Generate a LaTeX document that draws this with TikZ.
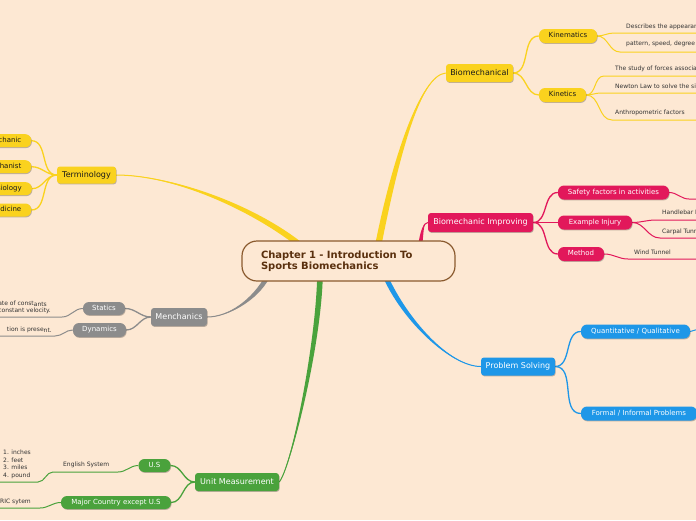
\documentclass[tikz,border=0pt]{standalone}
\usepackage{fontspec}
\setmainfont{DejaVu Sans}
\usetikzlibrary{calc,shadows}
\definecolor{bgc}{HTML}{FDE8D3}
\definecolor{ylw}{HTML}{FAD21E}
\definecolor{pnk}{HTML}{E2185B}
\definecolor{blu}{HTML}{1E97E8}
\definecolor{grn}{HTML}{4AA23C}
\definecolor{gry}{HTML}{8C8C8C}
\definecolor{rootb}{HTML}{8A5A2E}
\definecolor{roott}{HTML}{5A300E}
\definecolor{leafc}{HTML}{333333}
\definecolor{blk}{HTML}{1A1A1A}
\pgfdeclarelayer{bgl}
\pgfdeclarelayer{edges}
\pgfsetlayers{bgl,edges,main}
\tikzset{
  shad/.style={drop shadow={shadow xshift=0.6pt, shadow yshift=-0.9pt, opacity=0.25, fill=black}},
  mainnode/.style={shad, rounded corners=3pt, minimum height=18pt, inner xsep=2pt, inner ysep=0pt,
    font=\fontsize{8}{9}\selectfont, text height=6pt, text depth=1.7pt},
  subnode/.style={shad, rounded corners=6pt, minimum height=14pt, inner xsep=2pt, inner ysep=0pt,
    font=\fontsize{7}{8}\selectfont, text height=5.2pt, text depth=1.5pt},
  leaf/.style={font=\fontsize{6}{7}\selectfont, text=leafc, inner sep=0pt, text height=4.5pt, text depth=1.3pt},
  subln/.style={line width=1.3pt},
  lfln/.style={line width=1pt},
}
\newcommand\tbr[6]{%
  \fill[#1] ($#2+#6$) .. controls ($#3+#6$) and #4 .. #5 .. controls #4 and ($#3-#6$) .. ($#2-#6$) -- cycle;
  \draw[#1,line width=1pt] #2 .. controls #3 and #4 .. #5;}
\begin{document}
\begin{tikzpicture}[x=1pt,y=-1pt]
\useasboundingbox (0,0) rectangle (696,520);
\begin{pgfonlayer}{bgl}
\fill[bgc] (0,0) rectangle (696,520);
\end{pgfonlayer}

% root
\node[draw=rootb, line width=1.2pt, fill=bgc, rounded corners=15pt, minimum width=213pt,
  minimum height=40pt, inner xsep=19pt, text width=175pt, align=left,
  font=\bfseries\fontsize{10}{11}\selectfont, text=roott] (root) at (348.5,261)
  {Chapter 1 - Introduction To\\Sports Biomechanics};

% main nodes
\node[mainnode, fill=ylw, text=blk, minimum width=67pt] (bioM) at (479.5,73) {Biomechanical};
\node[mainnode, fill=ylw, text=blk, minimum width=59pt, minimum height=17pt] (term) at (86.5,175) {Terminology};
\node[mainnode, fill=pnk, text=white, minimum width=105pt, minimum height=19pt] (imp) at (480.5,222.5) {Biomechanic Improving};
\node[mainnode, fill=gry, text=white, minimum width=56pt] (mech) at (179,317) {Menchanics};
\node[mainnode, fill=blu, text=white, minimum width=74pt] (prob) at (518,366.5) {Problem Solving};
\node[mainnode, fill=grn, text=white, minimum width=84pt] (unit) at (237,482) {Unit Measurement};

% sub nodes
\node[subnode, fill=ylw, text=blk, minimum width=58pt] (kinem) at (568,36) {Kinematics};
\node[subnode, fill=ylw, text=blk, minimum width=47pt] (kinet) at (562.5,95) {Kinetics};
\node[subnode, fill=pnk, text=white, minimum width=111pt] (safe) at (613.5,192.5) {Safety factors in activities};
\node[subnode, fill=pnk, text=white, minimum width=74pt] (exinj) at (595,222.5) {Example Injury};
\node[subnode, fill=pnk, text=white, minimum width=46pt] (meth) at (581,254) {Method};
\node[subnode, fill=blu, text=white, minimum width=109pt] (quant) at (635.5,331.5) {Quantitative / Qualitative};
\node[subnode, fill=blu, text=white, minimum width=116pt] (formal) at (639,413.5) {Formal / Informal Problems};
\node[subnode, fill=gry, text=white, minimum width=42pt, minimum height=13pt] (statics) at (104,308.5) {Statics};
\node[subnode, fill=gry, text=white, minimum width=53pt] (dyn) at (99.5,330) {Dynamics};
\node[subnode, fill=grn, text=white, minimum width=32pt, minimum height=13pt] (us) at (154.5,465.5) {U.S};
\node[subnode, fill=grn, text=white, minimum width=110pt, minimum height=13pt] (major) at (116,502.5) {Major Country except U.S};
\node[subnode, fill=ylw, text=blk, anchor=east, inner xsep=10pt, minimum height=13pt] (tc1) at (31.5,140.7) {Biomechanic};
\node[subnode, fill=ylw, text=blk, anchor=east, inner xsep=10pt, minimum height=13pt] (tc2) at (31.5,166.7) {Biomechanist};
\node[subnode, fill=ylw, text=blk, anchor=east, inner xsep=10pt, minimum height=13pt] (tc3) at (32,188.7) {Kinesiology};
\node[subnode, fill=ylw, text=blk, anchor=east, inner xsep=10pt, minimum height=13pt] (tc4) at (31.5,210) {Sports Medicine};

% leaf texts
\node[leaf, anchor=west] (kt1) at (626,27) {Describes the appearance};
\node[leaf, anchor=west] (kt2) at (626,44) {pattern, speed, degree};
\node[leaf, anchor=west] (nt1) at (615,69) {The study of forces associated};
\node[leaf, anchor=west] (nt2) at (615,87) {Newton Law to solve the situation};
\node[leaf, anchor=west] (nt3) at (615,113) {Anthropometric factors};
\node[leaf, anchor=west] (et1) at (662,213) {Handlebar Palsy};
\node[leaf, anchor=west] (et2) at (662,232) {Carpal Tunnel};
\node[leaf, anchor=west] (mt1) at (634,253) {Wind Tunnel};
\node[leaf, anchor=east] (st1) at (47,304) {ate of const\raisebox{-1.3pt}{ants}};
\node[leaf, anchor=east] (st2) at (51,311) {constant velocity.};
\node[leaf, anchor=east] (dt1) at (52,330) {tion is prese\raisebox{-1.3pt}{nt.}};
\node[leaf, anchor=west] (es) at (63,465) {English System};
\node[leaf, anchor=west] (l1) at (3,453) {1. inches};
\node[leaf, anchor=west] (l2) at (3,460.6) {2. feet};
\node[leaf, anchor=west] (l3) at (3,468.2) {3. miles};
\node[leaf, anchor=west] (l4) at (3,475.8) {4. pound};
\node[leaf, anchor=east] (mj1) at (31,502) {METRIC sytem};

% line coordinates
\coordinate (kA) at (614,33);
\coordinate (kB) at (620,52);
\coordinate (nA) at (604,76);
\coordinate (nB) at (601,93);
\coordinate (nC) at (612,120);
\coordinate (sA) at (689,199);
\coordinate (eA) at (656,220);
\coordinate (eB) at (660,238);
\coordinate (mA) at (628,259);
\coordinate (qA) at (697,329.5);
\coordinate (stA) at (62,317);
\coordinate (dyA) at (55,336);
\coordinate (esR) at (118,472);
\coordinate (esL) at (53,472);
\coordinate (lsA) at (38,482);
\coordinate (mjA) at (40,508);

\coordinate (sB) at ($(root.north)+(29.5,6)$);
\coordinate (sT) at ($(root.north)+(-46.5,6)$);
\coordinate (sI) at ($(root.north)+(71.5,6)$);
\coordinate (sM) at ($(root.south)+(-81,-5)$);
\coordinate (sU) at ($(root.south)+(-28.5,-5)$);
\coordinate (sP) at ($(root.south)+(37,-5)$);

\begin{pgfonlayer}{edges}
% tapered main branches
\tbr{ylw}{(sB)}{(395,160)}{(420,75)}{(bioM.west)}{(3.2,0)}
\tbr{ylw}{(sT)}{(250,205)}{(170,175)}{(term.east)}{(1.8,-2.3)}
\tbr{pnk}{(sI)}{(422,232)}{(423,222.5)}{(imp.west)}{(2,0)}
\tbr{gry}{(sM)}{(255,300)}{(228,317)}{(mech.east)}{(2.1,1.1)}
\tbr{grn}{(sU)}{(318,350)}{(290,470)}{(unit.east)}{(2.8,0)}
\tbr{blu}{(sP)}{(405,320)}{(450,366.5)}{(prob.west)}{(2.3,-1)}

% sub branches
\draw[subln, ylw] (bioM.east) to[out=0,in=180] (kinem.west);
\draw[subln, ylw] (bioM.east) to[out=0,in=180] (kinet.west);
\draw[subln, ylw] (term.west) to[out=180,in=0] (tc1.east);
\draw[subln, ylw] (term.west) to[out=180,in=0] (tc2.east);
\draw[subln, ylw] (term.west) to[out=180,in=0] (tc3.east);
\draw[subln, ylw] (term.west) to[out=180,in=0] (tc4.east);
\draw[subln, pnk] (imp.east) to[out=0,in=180] (safe.west);
\draw[subln, pnk] (imp.east) to[out=0,in=180] (exinj.west);
\draw[subln, pnk] (imp.east) to[out=0,in=180] (meth.west);
\draw[subln, blu] (prob.east) to[out=0,in=180] (quant.west);
\draw[subln, blu] (prob.east) to[out=0,in=180] (formal.west);
\draw[subln, gry] (mech.west) to[out=180,in=0] (statics.east);
\draw[subln, gry] (mech.west) to[out=180,in=0] (dyn.east);
\draw[subln, grn] (unit.west) to[out=180,in=0] (us.east);
\draw[subln, grn] (unit.west) to[out=180,in=0] (major.east);

% leaf lines
\draw[lfln, ylw] (kinem.east) to[out=0,in=180] (kA) -- ++(90,0);
\draw[lfln, ylw] (kinem.east) to[out=0,in=180] (kB) -- ++(90,0);
\draw[lfln, ylw] (kinet.east) to[out=0,in=180] (nA) -- ++(100,0);
\draw[lfln, ylw] (kinet.east) to[out=0,in=180] (nB) -- ++(100,0);
\draw[lfln, ylw] (kinet.east) to[out=0,in=180] (nC) -- ++(100,0);
\draw[lfln, pnk] (safe.east) to[out=0,in=180] (sA) -- ++(20,0);
\draw[lfln, pnk] (exinj.east) to[out=0,in=180] (eA) -- ++(50,0);
\draw[lfln, pnk] (exinj.east) to[out=0,in=180] (eB) -- ++(50,0);
\draw[lfln, pnk] (meth.east) to[out=0,in=180] (mA) -- ++(80,0);
\draw[lfln, blu] (quant.east) to[out=0,in=180] (qA);
\draw[lfln, gry] (statics.west) to[out=180,in=0] (stA) -- ++(-70,0);
\draw[lfln, gry] (dyn.west) to[out=180,in=0] (dyA) -- ++(-70,0);
\draw[lfln, grn] (us.west) to[out=180,in=0] (esR) -- (esL) to[out=180,in=0] (lsA) -- ++(-50,0);
\draw[lfln, grn] (major.west) to[out=180,in=0] (mjA) -- ++(-50,0);
\end{pgfonlayer}
\end{tikzpicture}
\end{document}
